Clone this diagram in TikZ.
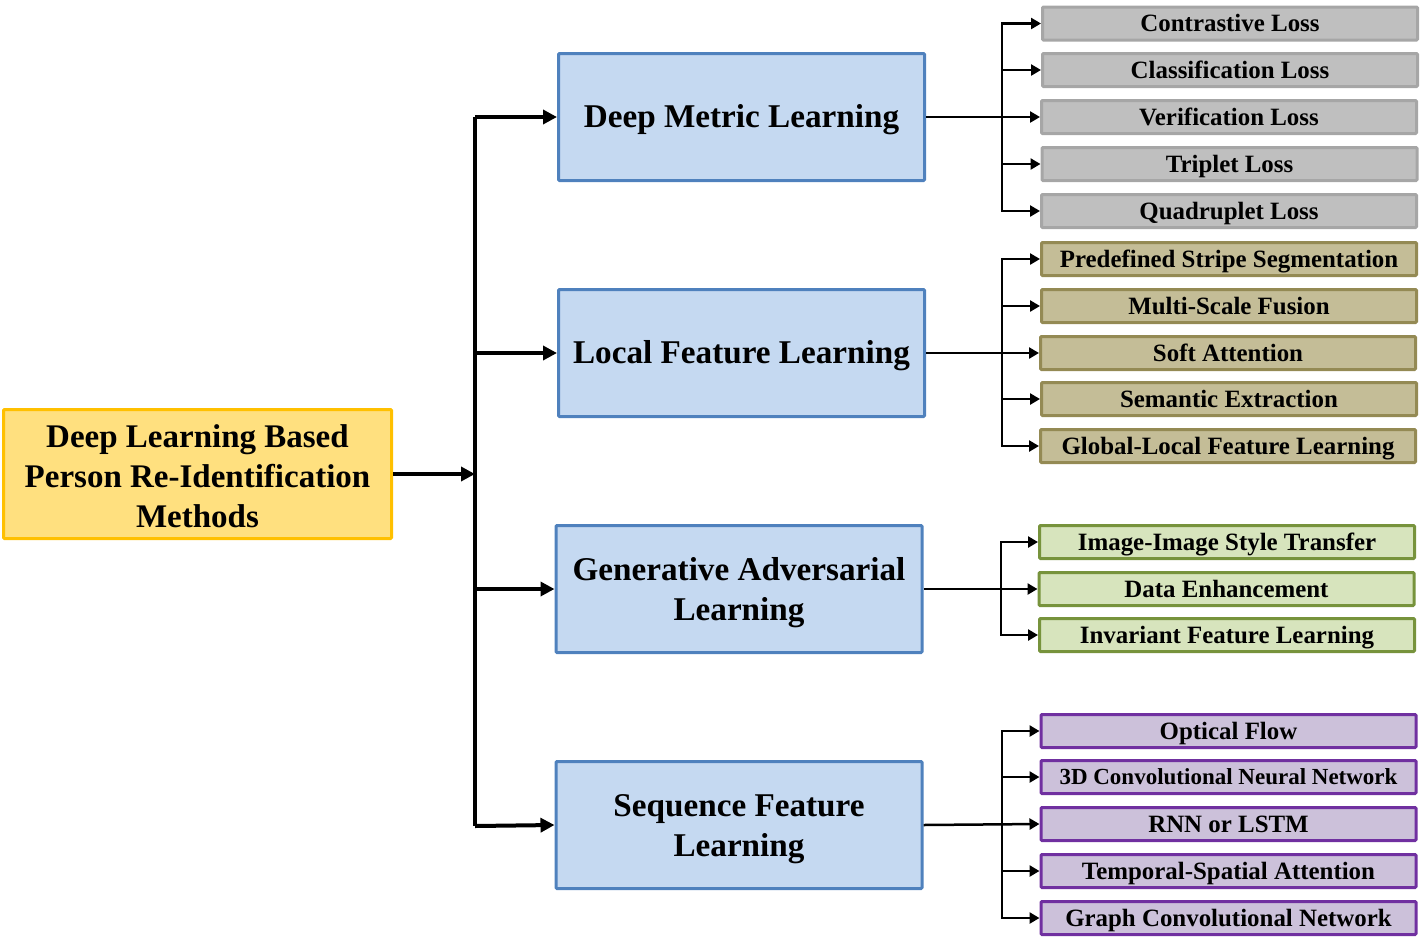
\documentclass[tikz,border=0pt]{standalone}
\usepackage{fontspec}
\setmainfont{Liberation Serif}
\usetikzlibrary{arrows.meta}
\definecolor{rootfill}{HTML}{FFE07F}
\definecolor{rootdraw}{HTML}{FFC000}
\definecolor{bigfill}{HTML}{C5D9F1}
\definecolor{bigdraw}{HTML}{4F81BD}
\definecolor{grayfill}{HTML}{BFBFBF}
\definecolor{graydraw}{HTML}{A6A6A6}
\definecolor{tanfill}{HTML}{C4BD97}
\definecolor{tandraw}{HTML}{948A54}
\definecolor{greenfill}{HTML}{D7E4BD}
\definecolor{greendraw}{HTML}{77933C}
\definecolor{purpfill}{HTML}{CCC1DA}
\definecolor{purpdraw}{HTML}{7030A0}
\tikzset{
  rootbox/.style={draw=rootdraw, fill=rootfill, line width=3pt, minimum width=388pt, minimum height=129pt, inner sep=0pt, align=center, font=\fontsize{33}{40}\selectfont\bfseries, rounded corners=1pt},
  bigbox/.style={draw=bigdraw, fill=bigfill, line width=3pt, minimum width=366pt, minimum height=127pt, inner sep=0pt, align=center, font=\fontsize{33.2}{40}\selectfont\bfseries, rounded corners=1pt},
  bigone/.style={bigbox, text height=21pt, text depth=0pt},
  bigtwo/.style={bigbox, text depth=0pt},
  smallbox/.style={line width=3pt, minimum width=375pt, minimum height=33pt, inner sep=0pt, font=\fontsize{24.9}{28}\selectfont\bfseries, rounded corners=1pt, text height=16.4pt, text depth=0pt},
  graybox/.style={smallbox, draw=graydraw, fill=grayfill},
  tanbox/.style={smallbox, draw=tandraw, fill=tanfill},
  greenbox/.style={smallbox, draw=greendraw, fill=greenfill},
  purpbox/.style={smallbox, draw=purpdraw, fill=purpfill},
  thickarr/.style={line width=4pt, -{Triangle[length=14pt,width=14pt]}},
  thickline/.style={line width=4pt},
  thinarr/.style={line width=2.5pt, -{Triangle[length=10pt,width=11pt]}},
  thinline/.style={line width=2.5pt},
}
\begin{document}
\begin{tikzpicture}[x=1pt,y=-1pt]
\useasboundingbox (0,0) rectangle (1421,948);
% root
\node[rootbox] (root) at (197.5,474) {\rule{0pt}{26.5pt}Deep Learning Based\\Person Re-Identification\\Methods};
% big boxes
\node[bigone] (b1) at (741.5,117) {Deep Metric Learning};
\node[bigone] (b2) at (741.5,353) {Local Feature Learning};
\node[bigtwo] (b3) at (739,589) {Generative Adversarial\\Learning};
\node[bigtwo] (b4) at (739,825) {Sequence Feature\\Learning};
% trunk
\coordinate (tt) at (475,117);
\coordinate (tb) at (475,826);
\coordinate (tm) at (475,474);
\draw[thickline] (tt) -- (tb);
\draw[thickarr] (root.east) -- (tm);
\draw[thickarr] (tt) -- (b1.west);
\draw[thickarr] (b2.west -| tt) -- (b2.west);
\draw[thickarr] (b3.west -| tt) -- (b3.west);
\draw[thickarr] (tb) -- (b4.west);
% group 1
\node[graybox] (m11) at (1230,23.5) {Contrastive Loss};
\node[graybox] (m12) at (1230,70) {Classification Loss};
\node[graybox] (m13) at (1229,117) {Verification Loss};
\node[graybox] (m14) at (1229.5,164) {Triplet Loss};
\node[graybox] (m15) at (1229,211) {Quadruplet Loss};
\coordinate (bx1) at (1002,117);
\draw[thinarr] (b1.east) -- (m13.west);
\foreach \k in {1,2,4,5} \draw[thinarr] (bx1) |- (m1\k.west);
% group 2
\node[tanbox] (m21) at (1229,259) {Predefined Stripe Segmentation};
\node[tanbox] (m22) at (1229,306) {Multi-Scale Fusion};
\node[tanbox] (m23) at (1228,353) {Soft Attention};
\node[tanbox] (m24) at (1229,399) {Semantic Extraction};
\node[tanbox] (m25) at (1228,446) {Global-Local Feature Learning};
\coordinate (bx2) at (1002,353);
\draw[thinarr] (b2.east) -- (m23.west);
\foreach \k in {1,2,4,5} \draw[thinarr] (bx2) |- (m2\k.west);
% group 3
\node[greenbox] (m31) at (1227,542) {Image-Image Style Transfer};
\node[greenbox] (m32) at (1226.5,589) {Data Enhancement};
\node[greenbox] (m33) at (1227,635) {Invariant Feature Learning};
\coordinate (bx3) at (1001,589);
\draw[thinarr] (b3.east) -- (m32.west);
\foreach \k in {1,3} \draw[thinarr] (bx3) |- (m3\k.west);
% group 4
\node[purpbox] (m41) at (1228.5,731) {Optical Flow};
\node[purpbox, font=\fontsize{23}{26}\selectfont\bfseries, text height=15.2pt] (m42) at (1228.5,777) {3D Convolutional Neural Network};
\node[purpbox] (m43) at (1228.5,824) {RNN or LSTM};
\node[purpbox] (m44) at (1228.5,871) {Temporal-Spatial Attention};
\node[purpbox] (m45) at (1228.5,918) {Graph Convolutional Network};
\coordinate (bx4) at (1002,825);
\draw[thinarr] (b4.east) -- (m43.west);
\foreach \k in {1,2,4,5} \draw[thinarr] (bx4) |- (m4\k.west);
\end{tikzpicture}
\end{document}
